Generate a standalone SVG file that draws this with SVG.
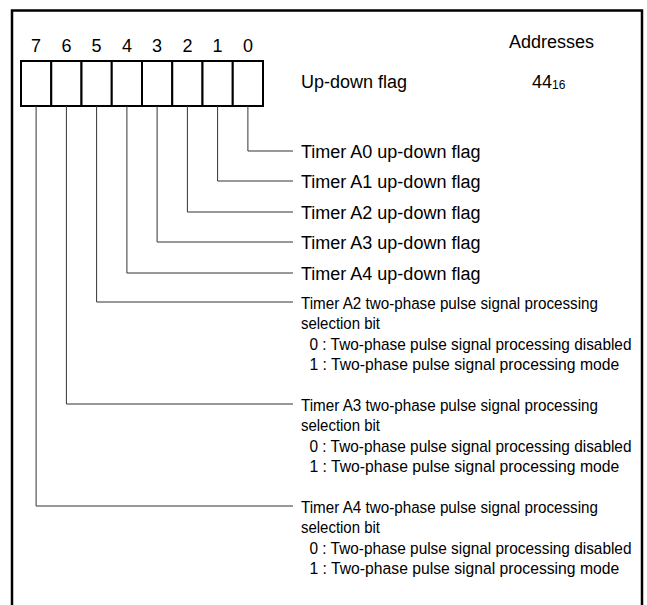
<svg xmlns="http://www.w3.org/2000/svg" width="647" height="605" viewBox="0 0 647 605">
  <style>
    text { font-family: "Liberation Sans", Arial, sans-serif; fill: #000; }
    .t18 { font-size: 18px; }
    .bit { font-size: 18px; text-anchor: middle; }
    .n { font-size: 17px; }
    .sub { font-size: 12px; }
    .box { fill: #fff; stroke: #000; stroke-width: 2; }
    .frame { fill: none; stroke: #000; stroke-width: 2.5; }
    .conn { fill: none; stroke: #333; stroke-width: 1; }
  </style>
  <rect width="647" height="605" fill="#fff"/>
  <path class="frame" d="M12,605 V10.5 H642 V605"/>

  <g id="register">
    <rect class="box" x="21" y="61" width="30.25" height="45"/>
    <rect class="box" x="51.25" y="61" width="30.25" height="45"/>
    <rect class="box" x="81.5" y="61" width="30.25" height="45"/>
    <rect class="box" x="111.75" y="61" width="30.25" height="45"/>
    <rect class="box" x="142" y="61" width="30.25" height="45"/>
    <rect class="box" x="172.25" y="61" width="30.25" height="45"/>
    <rect class="box" x="202.5" y="61" width="30.25" height="45"/>
    <rect class="box" x="232.75" y="61" width="30.25" height="45"/>
    <text class="bit" x="36.1" y="52">7</text>
    <text class="bit" x="66.4" y="52">6</text>
    <text class="bit" x="96.6" y="52">5</text>
    <text class="bit" x="126.9" y="52">4</text>
    <text class="bit" x="157.1" y="52">3</text>
    <text class="bit" x="187.4" y="52">2</text>
    <text class="bit" x="217.6" y="52">1</text>
    <text class="bit" x="247.9" y="52">0</text>
  </g>

  <g id="header">
    <text class="t18" x="509" y="48">Addresses</text>
    <text class="t18" x="301" y="88">Up-down flag</text>
    <text class="t18" x="532" y="88">44<tspan class="sub" dy="1">16</tspan></text>
  </g>

  <g id="connectors">
    <path class="conn" d="M247.9,106 V151 H293"/>
    <path class="conn" d="M217.6,106 V181 H293"/>
    <path class="conn" d="M187.4,106 V212 H293"/>
    <path class="conn" d="M157.1,106 V242 H293"/>
    <path class="conn" d="M126.9,106 V273 H293"/>
    <path class="conn" d="M96.6,106 V302 H293"/>
    <path class="conn" d="M66.4,106 V404 H293"/>
    <path class="conn" d="M36.1,106 V506 H293"/>
  </g>

  <g id="bit0"><text class="t18" x="301" y="157.5">Timer A0 up-down flag</text></g>
  <g id="bit1"><text class="t18" x="301" y="187.5">Timer A1 up-down flag</text></g>
  <g id="bit2"><text class="t18" x="301" y="218.5">Timer A2 up-down flag</text></g>
  <g id="bit3"><text class="t18" x="301" y="248.5">Timer A3 up-down flag</text></g>
  <g id="bit4"><text class="t18" x="301" y="279.5">Timer A4 up-down flag</text></g>

  <g id="bit5">
    <text class="n" transform="translate(301,308.5) scale(0.895,1)">Timer A2 two-phase pulse signal processing</text>
    <text class="n" transform="translate(301,329) scale(0.88,1)">selection bit</text>
    <text class="n" transform="translate(309.5,349.5) scale(0.905,1)">0 : Two-phase pulse signal processing disabled</text>
    <text class="n" transform="translate(309.5,370) scale(0.925,1)">1 : Two-phase pulse signal processing mode</text>
  </g>
  <g id="bit6">
    <text class="n" transform="translate(301,410.5) scale(0.895,1)">Timer A3 two-phase pulse signal processing</text>
    <text class="n" transform="translate(301,431) scale(0.88,1)">selection bit</text>
    <text class="n" transform="translate(309.5,451.5) scale(0.905,1)">0 : Two-phase pulse signal processing disabled</text>
    <text class="n" transform="translate(309.5,472) scale(0.925,1)">1 : Two-phase pulse signal processing mode</text>
  </g>
  <g id="bit7">
    <text class="n" transform="translate(301,512.5) scale(0.895,1)">Timer A4 two-phase pulse signal processing</text>
    <text class="n" transform="translate(301,533) scale(0.88,1)">selection bit</text>
    <text class="n" transform="translate(309.5,553.5) scale(0.905,1)">0 : Two-phase pulse signal processing disabled</text>
    <text class="n" transform="translate(309.5,574) scale(0.925,1)">1 : Two-phase pulse signal processing mode</text>
  </g>
</svg>
